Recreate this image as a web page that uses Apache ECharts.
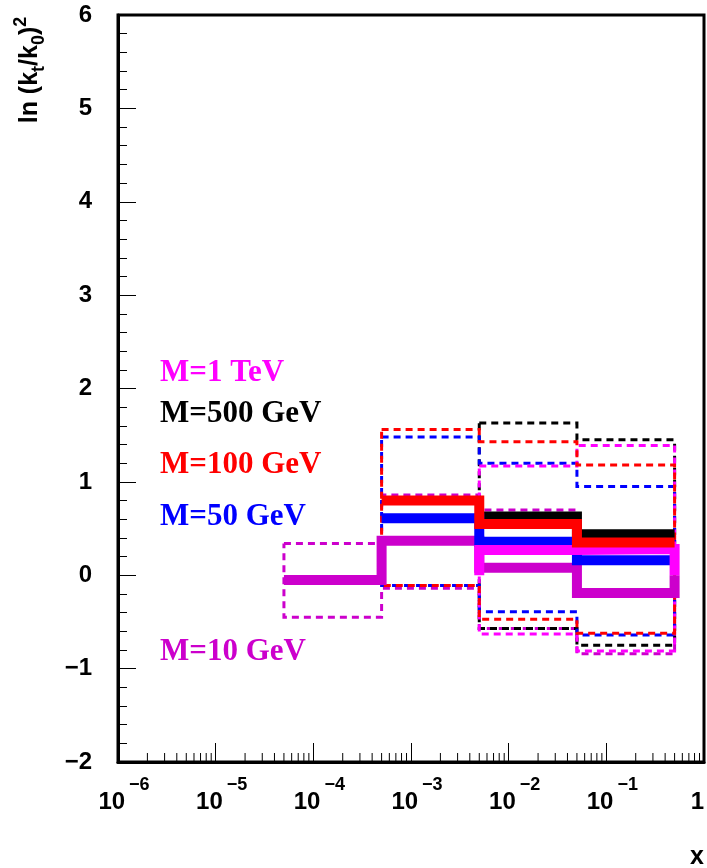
<!DOCTYPE html>
<html>
<head>
<meta charset="utf-8">
<script src="https://cdn.jsdelivr.net/npm/echarts@6/dist/echarts.min.js"></script>
<style>
  html, body { margin: 0; padding: 0; background: #fff; }
  #chart { width: 707px; height: 868px; }
</style>
</head>
<body>
<div id="chart"></div>
<script>
// Bin edges in x (log scale)
const binEdges = [5e-5, 5e-4, 5e-3, 5e-2, 0.5];

// Central values and upper/lower bounds of ln(kt/k0)^2 per bin, one set per mass
const m10Central  = [-0.05, 0.37, 0.08, -0.19];
const m10Upper    = [0.34, 0.86, 0.70, 0.44];
const m10Lower    = [-0.45, -0.14, -0.57, -0.84];

const m50Central  = [null, 0.61, 0.36, 0.16];
const m50Upper    = [null, 1.48, 1.20, 0.95];
const m50Lower    = [null, -0.11, -0.39, -0.64];

const m100Central = [null, 0.80, 0.55, 0.35];
const m100Upper   = [null, 1.56, 1.43, 1.18];
const m100Lower   = [null, -0.11, -0.47, -0.62];

const m500Central = [null, null, 0.63, 0.44];
const m500Upper   = [null, null, 1.63, 1.45];
const m500Lower   = [null, null, -0.57, -0.75];

const m1000Central = [null, null, 0.27, 0.28];
const m1000Upper   = [null, null, 1.17, 1.39];
const m1000Lower   = [null, null, -0.63, -0.81];

const labels = ['M=1 TeV', 'M=500 GeV', 'M=100 GeV', 'M=50 GeV', 'M=10 GeV'];
const yTicks = [-2, -1, 0, 1, 2, 3, 4, 5, 6];

const C_MAGENTA = '#ff00ff', C_BLACK = '#000000', C_RED = '#ff0000',
      C_BLUE = '#0000ff', C_PURPLE = '#cc00cc';

// Histogram outline as a step polyline
function steps(values, dropStart, dropEnd) {
  const pts = [];
  values.forEach((v, i) => {
    if (v == null) return;
    if (pts.length === 0 && dropStart) pts.push([binEdges[i], 0]);
    pts.push([binEdges[i], v], [binEdges[i + 1], v]);
  });
  if (dropEnd) pts.push([pts[pts.length - 1][0], 0]);
  return pts;
}
// Closed outline of the band between upper and lower histograms
function band(upper, lower) {
  const up = steps(upper);
  const lo = steps(lower).reverse();
  return up.concat(lo, [up[0]]);
}

function thick(name, data, color) {
  return {
    name, type: 'line', data, symbol: 'none', animation: false,
    lineStyle: { color, width: 10, cap: 'butt', join: 'miter' }
  };
}
function dashed(name, data, color) {
  return {
    name, type: 'line', data, symbol: 'none', animation: false,
    lineStyle: { color, width: 3, type: [7, 5], cap: 'butt', join: 'miter' }
  };
}

// Minor ticks of the log x axis (2..9 in each decade)
const minorX = [];
for (let k = -6; k < 0; k++) {
  for (let m = 2; m <= 9; m++) minorX.push([m * Math.pow(10, k), -2]);
}

const chart = echarts.init(document.getElementById('chart'), null, { renderer: 'canvas' });

const supStr = (n) => String(n).replace('-', '\u2212');

chart.setOption({
  animation: false,
  backgroundColor: '#ffffff',
  grid: {
    left: 118, right: 1, top: 15, bottom: 106,
    show: true, borderColor: '#000', borderWidth: 3, backgroundColor: 'transparent'
  },
  xAxis: {
    type: 'log', logBase: 10, min: 1e-6, max: 1, splitNumber: 6,
    axisLine: { show: true, onZero: false, lineStyle: { color: '#000', width: 3 } },
    axisTick: { show: true, inside: true, length: 19, lineStyle: { color: '#000', width: 1 } },
    splitLine: { show: false },
    minorTick: { show: false },
    axisLabel: {
      show: true, margin: 14, showMinLabel: true, showMaxLabel: true,
      alignMaxLabel: 'right', hideOverlap: false,
      padding: [0, 0, 0, 12],
      formatter: (v) => {
        const e = Math.round(Math.log10(v));
        if (e === 0) return '{s|\u200b}{b|1}';
        return '{s|\u200b}{b|10}{sup|' + supStr(e) + '}';
      },
      rich: {
        s: { fontSize: 2, lineHeight: 38, verticalAlign: 'top' },
        b: { fontFamily: 'Liberation Sans', fontWeight: 'bold', fontSize: 24, lineHeight: 24,
             color: '#000', verticalAlign: 'bottom' },
        sup: { fontFamily: 'Liberation Sans', fontWeight: 'bold', fontSize: 18, lineHeight: 18,
               color: '#000', verticalAlign: 'top', padding: [0, 0, 0, 4] }
      }
    }
  },
  yAxis: {
    type: 'value', min: yTicks[0], max: yTicks[yTicks.length - 1], interval: 1,
    axisLine: { show: true, onZero: false, lineStyle: { color: '#000', width: 3 } },
    axisTick: { show: true, inside: true, length: 18, lineStyle: { color: '#000', width: 1 } },
    minorTick: { show: true, splitNumber: 5, length: 9, lineStyle: { color: '#000', width: 1 } },
    splitLine: { show: false },
    axisLabel: {
      margin: 26, color: '#000', fontFamily: 'Liberation Sans', fontWeight: 'bold', fontSize: 24,
      formatter: (v) => supStr(v)
    }
  },
  graphic: [
    {
      type: 'text', x: 30.5, y: 70, rotation: Math.PI / 2,
      style: {
        text: '{b|ln (k}{sub|t}{b|/k}{sub|0}{b|)}{sup|2}',
        align: 'center', verticalAlign: 'middle',
        rich: {
          b: { fontFamily: 'Liberation Sans', fontWeight: 'bold', fontSize: 25, lineHeight: 36,
               verticalAlign: 'middle', fill: '#000' },
          sub: { fontFamily: 'Liberation Sans', fontWeight: 'bold', fontSize: 18, lineHeight: 18,
                 verticalAlign: 'bottom', fill: '#000' },
          sup: { fontFamily: 'Liberation Sans', fontWeight: 'bold', fontSize: 18, lineHeight: 18,
                 verticalAlign: 'top', fill: '#000' }
        }
      }
    },
    {
      type: 'text', x: 697, y: 857,
      style: { text: 'x', font: 'bold 25px "Liberation Sans"', fill: '#000',
               align: 'center', verticalAlign: 'middle' }
    },
    { type: 'text', x: 160, y: 373,
      style: { text: labels[0], font: 'bold 31px "Liberation Serif"', fill: C_MAGENTA, align: 'left', verticalAlign: 'middle' } },
    { type: 'text', x: 160, y: 414,
      style: { text: labels[1], font: 'bold 31px "Liberation Serif"', fill: C_BLACK, align: 'left', verticalAlign: 'middle' } },
    { type: 'text', x: 160, y: 465,
      style: { text: labels[2], font: 'bold 31px "Liberation Serif"', fill: C_RED, align: 'left', verticalAlign: 'middle' } },
    { type: 'text', x: 160, y: 517,
      style: { text: labels[3], font: 'bold 31px "Liberation Serif"', fill: C_BLUE, align: 'left', verticalAlign: 'middle' } },
    { type: 'text', x: 160, y: 652,
      style: { text: labels[4], font: 'bold 31px "Liberation Serif"', fill: C_PURPLE, align: 'left', verticalAlign: 'middle' } }
  ],
  series: [
    // dashed bands
    dashed('M=10 GeV band', band(m10Upper, m10Lower), C_PURPLE),
    dashed('M=500 GeV band', band(m500Upper, m500Lower), C_BLACK),
    dashed('M=50 GeV band', band(m50Upper, m50Lower), C_BLUE),
    dashed('M=1 TeV band', band(m1000Upper, m1000Lower), C_MAGENTA),
    dashed('M=100 GeV band', band(m100Upper, m100Lower), C_RED),
    // central histograms
    thick('M=10 GeV', steps(m10Central, false, true), C_PURPLE),
    thick('M=500 GeV', steps(m500Central, false, false), C_BLACK),
    thick('M=50 GeV', steps(m50Central, false, false), C_BLUE),
    thick('M=1 TeV', steps(m1000Central, true, true), C_MAGENTA),
    thick('M=100 GeV', steps(m100Central, false, false), C_RED),
    // minor ticks on the log x axis
    {
      type: 'custom', name: 'x minor ticks', data: minorX, silent: true, clip: false,
      renderItem: (params, api) => {
        const p = api.coord([api.value(0), api.value(1)]);
        return { type: 'line', shape: { x1: p[0], y1: p[1], x2: p[0], y2: p[1] - 9 },
                 style: { stroke: '#000', lineWidth: 1 } };
      }
    }
  ]
});
</script>
</body>
</html>
